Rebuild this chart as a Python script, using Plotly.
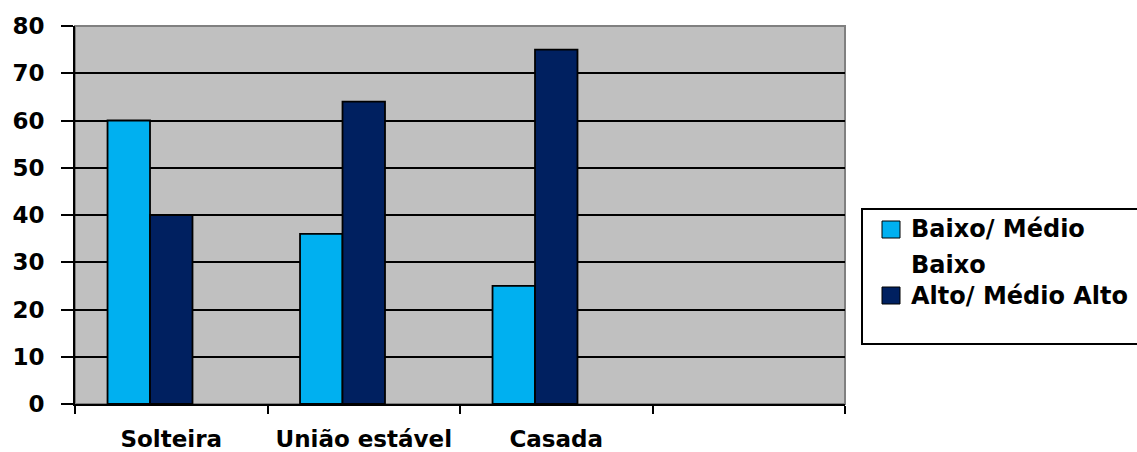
import plotly.graph_objects as go

categories = ["Solteira", "União estável", "Casada", " "]
baixo = [60, 36, 25, None]
alto = [40, 64, 75, None]
vazio = [None, None, None, None]
series_names = ["Baixo/ Médio", "Alto/ Médio Alto"]
y_ticks = [0, 10, 20, 30, 40, 50, 60, 70, 80]
colors = ["#00B0F0", "#002060"]

FONT = "DejaVu Sans"

# plot area in pixels (for placing the legend box in paper coords)
L, R, T, B = 75, 845, 26, 404
def px(xp):
    return (xp - L) / (R - L)
def py(yp):
    return (B - yp) / (B - T)

fig = go.Figure()
fig.add_trace(go.Bar(x=categories, y=baixo, name=series_names[0], showlegend=False,
                     marker=dict(color=colors[0], line=dict(color="black", width=1.8))))
fig.add_trace(go.Bar(x=categories, y=alto, name=series_names[1], showlegend=False,
                     marker=dict(color=colors[1], line=dict(color="black", width=1.8))))
fig.add_trace(go.Bar(x=categories, y=vazio, name="", showlegend=False,
                     marker=dict(color="rgba(0,0,0,0)", line=dict(width=0))))

shapes = [
    dict(type="rect", xref="paper", yref="paper", x0=0, x1=1, y0=0, y1=1,
         line=dict(color="#808080", width=2), layer="below"),
    # legend frame
    dict(type="rect", xref="paper", yref="paper", x0=px(862), x1=px(1160),
         y0=py(344), y1=py(209), line=dict(color="black", width=2), fillcolor="white"),
    # legend swatches
    dict(type="rect", xref="paper", yref="paper", x0=px(882), x1=px(900),
         y0=py(238), y1=py(221), line=dict(color="black", width=1), fillcolor=colors[0]),
    dict(type="rect", xref="paper", yref="paper", x0=px(882), x1=px(900),
         y0=py(304), y1=py(287), line=dict(color="black", width=1), fillcolor=colors[1]),
]

legend_font = dict(family=FONT, size=24, color="black", weight="bold")
annotations = [
    dict(xref="paper", yref="paper", x=px(909), y=py(229), xanchor="left", yanchor="middle",
         text=series_names[0], showarrow=False, font=legend_font),
    dict(xref="paper", yref="paper", x=px(909), y=py(265), xanchor="left", yanchor="middle",
         text="Baixo", showarrow=False, font=legend_font),
    dict(xref="paper", yref="paper", x=px(909), y=py(296), xanchor="left", yanchor="middle",
         text=series_names[1], showarrow=False, font=legend_font),
]

fig.update_layout(
    width=1137, height=452,
    margin=dict(l=L, r=1137 - R, t=T, b=452 - B, autoexpand=False),
    paper_bgcolor="white",
    plot_bgcolor="#C0C0C0",
    barmode="group",
    bargap=0.338,
    bargroupgap=0,
    showlegend=False,
    font=dict(family=FONT, color="black"),
    xaxis=dict(
        type="category", categoryorder="array", categoryarray=categories,
        range=[-0.5, 3.5],
        tickson="boundaries", ticks="outside", ticklen=8, tickwidth=2, tickcolor="black",
        showline=True, linecolor="black", linewidth=2,
        showgrid=False,
        ticklabelstandoff=13,
        tickfont=dict(family=FONT, size=23, color="black", weight="bold"),
    ),
    yaxis=dict(
        range=[0, 80], tickvals=y_ticks,
        ticks="outside", ticklen=12, tickwidth=2, tickcolor="black",
        showline=True, linecolor="black", linewidth=2,
        showgrid=True, gridcolor="black", gridwidth=2,
        zeroline=False,
        ticklabelstandoff=12,
        tickfont=dict(family=FONT, size=23, color="black", weight="bold"),
    ),
    shapes=shapes,
    annotations=annotations,
)

fig.write_html("out.html")
